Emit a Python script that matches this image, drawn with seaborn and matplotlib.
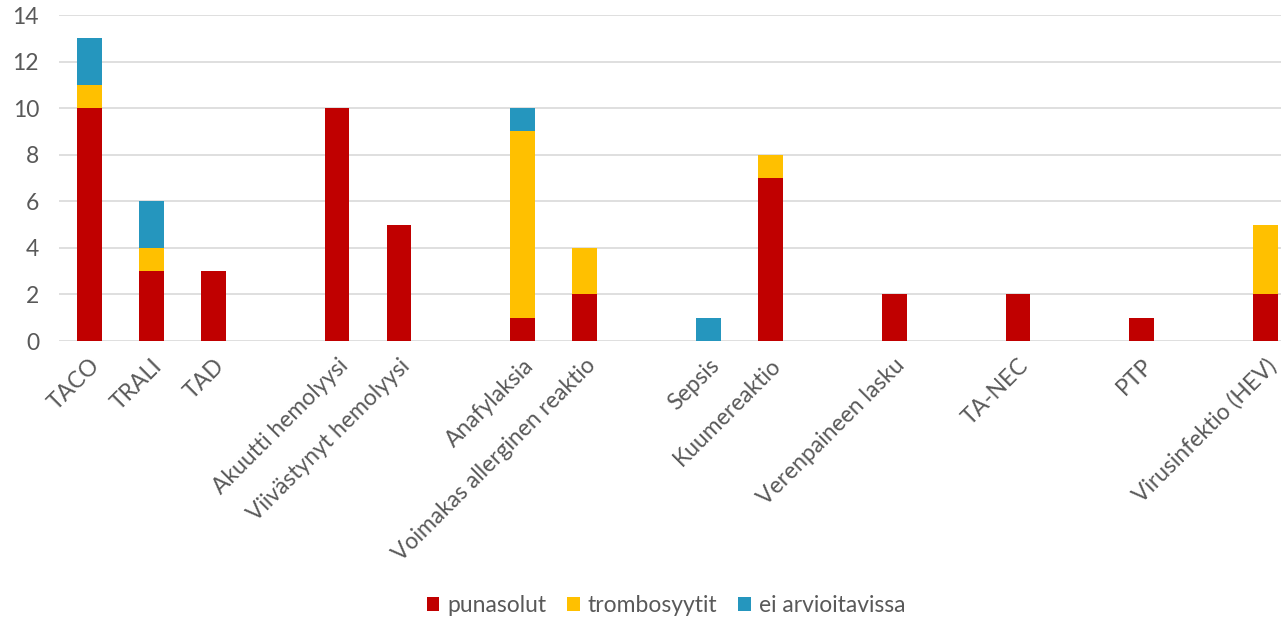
import matplotlib
matplotlib.use("Agg")
import matplotlib.pyplot as plt
from matplotlib.patches import Patch
import seaborn as sns
import pandas as pd

# Transfusion reaction categories; blank slots separate the groups on the axis
categories = ["TACO", "TRALI", "TAD", " ",
              "Akuutti hemolyysi", "Viivästynyt hemolyysi", "  ",
              "Anafylaksia", "Voimakas allerginen reaktio", "   ",
              "Sepsis", "Kuumereaktio", "    ",
              "Verenpaineen lasku", "     ",
              "TA-NEC", "      ",
              "PTP", "       ",
              "Virusinfektio (HEV)"]

punasolut      = [10, 3, 3, 0, 10, 5, 0, 1, 2, 0, 0, 7, 0, 2, 0, 2, 0, 1, 0, 2]
trombosyytit   = [1, 1, 0, 0, 0, 0, 0, 8, 2, 0, 0, 1, 0, 0, 0, 0, 0, 0, 0, 3]
ei_arvioitavissa = [2, 2, 0, 0, 0, 0, 0, 1, 0, 0, 1, 0, 0, 0, 0, 0, 0, 0, 0, 0]

series_names = ["punasolut", "trombosyytit", "ei arvioitavissa"]
colors = ["#C00000", "#FFC000", "#2596BE"]

df = pd.DataFrame({
    "kategoria": categories,
    "punasolut": punasolut,
    "trombosyytit": trombosyytit,
    "ei arvioitavissa": ei_arvioitavissa,
})
# cumulative tops for stacking
df["top_red"] = df["punasolut"]
df["top_yellow"] = df["top_red"] + df["trombosyytit"]
df["top_blue"] = df["top_yellow"] + df["ei arvioitavissa"]

sns.set_theme(style="white")
plt.rcParams["font.family"] = ["Lato", "DejaVu Sans"]
text_color = "#595959"
fs = 16.5

fig = plt.figure(figsize=(12.81, 6.19), dpi=100)
W, H = 1281, 619
left, right = 58.5, 1296.5
top, bottom = 15, 341
ax = fig.add_axes([left / W, 1 - bottom / H, (right - left) / W, (bottom - top) / H])

for col, c in zip(["top_blue", "top_yellow", "top_red"], colors[::-1]):
    sns.barplot(data=df, x="kategoria", y=col, order=categories, color=c,
                width=0.4, saturation=1, linewidth=0, ax=ax)

ax.set_xlim(-0.5, len(categories) - 0.5)
ax.set_ylim(0, 14)
ax.set_yticks(range(0, 15, 2))
ax.yaxis.grid(True, color="#D9D9D9", linewidth=1.2)
ax.set_axisbelow(True)
for s in ax.spines.values():
    s.set_visible(False)
ax.set_xlabel("")
ax.set_ylabel("")
ax.tick_params(axis="both", length=0, labelsize=fs, colors=text_color)
ax.tick_params(axis="y", pad=14)
ax.tick_params(axis="x", pad=10)
ax.set_xticks(range(len(categories)))
ax.set_xticklabels([c.strip() for c in categories], rotation=45, ha="right",
                   rotation_mode="anchor", color=text_color, fontsize=fs)

handles = [Patch(facecolor=c, edgecolor="none") for c in colors]
fig.legend(handles, series_names, loc="center", ncol=3,
           bbox_to_anchor=(666 / W, 1 - 606 / H), frameon=False,
           fontsize=fs, labelcolor=text_color, handlelength=0.55,
           handleheight=0.55, handletextpad=0.35, columnspacing=0.9)

fig.savefig("out.png", dpi=100)
